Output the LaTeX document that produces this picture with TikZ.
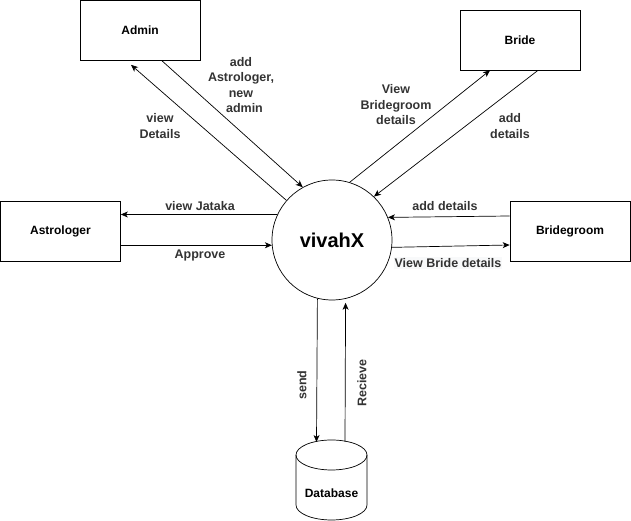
\documentclass[tikz,border=0pt]{standalone}
\usepackage{fontspec}
\setmainfont{Liberation Sans}
\usepackage{xcolor}
\definecolor{lbltext}{HTML}{333333}
\definecolor{lblback}{HTML}{F8F9FA}
\usetikzlibrary{arrows.meta, positioning, calc}
\tikzstyle{block} = [draw, rectangle, minimum height=60pt, minimum width=120pt, font=\bfseries\fontsize{12}{14}\selectfont]
\tikzstyle{flow} = [line width=0.7pt, -{Stealth[length=7pt, width=6pt, inset=2pt]}]
\tikzstyle{lbl} = [text=lbltext, align=center, inner sep=1pt, font=\bfseries\fontsize{12.5}{15.5}\selectfont]

\begin{document}
\begin{tikzpicture}[x=1pt, y=1pt, line width=0.7pt]
    \useasboundingbox (0,0) rectangle (631,521);

    % process
    \node[draw, circle, minimum size=120pt, inner sep=0pt,
      font=\bfseries\fontsize{20}{24}\selectfont] (vivahX) at (332,281) {vivahX};

    % entities
    \node[block] (admin) at (140,490.5) {Admin};
    \node[block] (bride) at (520,481) {Bride};
    \node[block] (astro) at (60.5,290) {Astrologer};
    \node[block] (bgroom) at (570,290) {Bridegroom};

    % store
    \node[font=\bfseries\fontsize{12}{14}\selectfont] (db) at (331.5,28) {Database};
    \draw ($(db)+(-35.5,38)$) -- ($(db)+(-35.5,-12)$)
      arc[start angle=180, end angle=360, x radius=35.5, y radius=15]
      -- ($(db)+(35.5,38)$);
    \draw ($(db)+(0,38)$) ellipse [x radius=35.5, y radius=15];

    % admin
    \draw[flow] ($(admin.south)+(22,0)$) -- (vivahX.119);
    \draw[flow] (vivahX.139) -- ($(admin.south)+(-9,-4)$);
    \node[lbl] (addadmin) at (241,436) {add\\Astrologer,\\new\\\ \ admin};
    \node[lbl] (viewdet) at (160,395) {view\\Details};

    % astrologer
    \draw[flow] (vivahX.155) -- (vivahX.155 -| astro.east);
    \draw[flow] (vivahX.185 -| astro.east) -- (vivahX.185);
    \node[lbl] (viewjat) at (200,315) {view Jataka};
    \node[lbl] (approve) at (200,265) {Approve};

    % bride
    \draw[flow] (vivahX.73) -- ($(bride.south)+(-30,0)$);
    \draw[flow] ($(bride.south)+(18,0)$) -- (vivahX.46);
    \node[lbl] (viewbg) at (396,416) {View\\Bridegroom\\details};
    \node[lbl] (adddet) at (510,395) {add\\details};

    % bridegroom
    \draw[flow] ($(bgroom.west)+(0,15)$) -- (vivahX.22);
    \draw[flow] (vivahX.-7) -- ($(bgroom.west)+(0,-14)$);
    \node[lbl] (adddetb) at (445,315) {add details};
    \node[lbl, fill=lblback] (viewbr) at (448,258) {View Bride details};

    % database
    \draw[flow] (vivahX.256) -- ($(db)+(-15,51)$);
    \draw[flow] ($(db)+(13.5,51)$) -- ($(vivahX.283)+(0,-4)$);
    \node[lbl, rotate=90] (sendlbl) at (302,136) {send};
    \node[lbl, rotate=90] (reclbl) at (362,138) {Recieve};
\end{tikzpicture}
\end{document}
